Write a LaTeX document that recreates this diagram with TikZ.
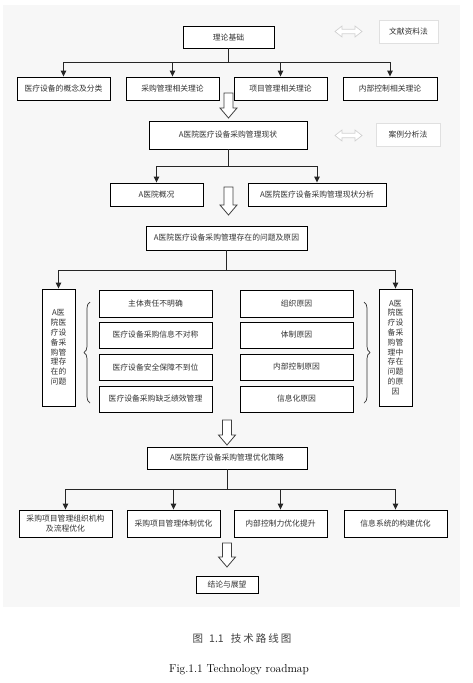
\documentclass[tikz,border=0pt]{standalone}
\usepackage{fontspec}
\newfontfamily\cjk{Noto Sans CJK SC}
\usetikzlibrary{arrows.meta,decorations.pathreplacing}
\definecolor{txt}{HTML}{333333}
\definecolor{panel}{HTML}{F7F7F7}
\newcommand\hollowdown[3]{%
  \draw[line width=0.8pt, draw=black!75, fill=white]
    (#1-4.5,#2) -- (#1+4.5,#2) -- (#1+4.5,#3-10) -- (#1+8.5,#3-10) -- (#1,#3)
    -- (#1-8.5,#3-10) -- (#1-4.5,#3-10) -- cycle;}
\newcommand\dblarrow[1]{%
  \draw[line width=0.7pt, draw=black!18, fill=white]
    (335,#1) -- (342,#1-5.5) -- (342,#1-2.3) -- (355,#1-2.3) -- (355,#1-5.5)
    -- (362,#1) -- (355,#1+5.5) -- (355,#1+2.3) -- (342,#1+2.3) -- (342,#1+5.5) -- cycle;}
\begin{document}
\begin{tikzpicture}[x=1pt,y=-1pt,
  box/.style={draw=black, line width=0.9pt, fill=white, inner sep=1pt, align=center,
    text=txt, font=\cjk\fontsize{7.8}{9.8}\selectfont},
  method/.style={box, draw=black!12, line width=0.8pt},
  conn/.style={line width=0.9pt, draw=black!85},
  arr/.style={conn, -{Triangle[length=6pt,width=5.5pt]}},
  bracestyle/.style={line width=0.7pt, draw=black!80, decorate, decoration={brace, amplitude=6pt}}]
\useasboundingbox (0,0) rectangle (473,683);
\fill[panel] (3,5) rectangle (460,607);

% level 1
\node[box, minimum width=91, minimum height=22] (t0) at (228.5,37) {理论基础};
\node[method, minimum width=59, minimum height=23] (m1) at (408.5,31.5) {文献资料法};
\dblarrow{31.5}
\node[box, minimum width=93, minimum height=23] (r1a) at (63.5,88.5) {医疗设备的概念及分类};
\node[box, minimum width=93, minimum height=23] (r1b) at (172.5,88.5) {采购管理相关理论};
\node[box, minimum width=93, minimum height=23] (r1c) at (280.5,88.5) {项目管理相关理论};
\node[box, minimum width=94, minimum height=23] (r1d) at (390,88.5) {内部控制相关理论};
\coordinate (j1) at (228.5,62);
\draw[conn] (t0.south) -- (j1);
\draw[arr] (j1) -| (r1a.north);
\draw[arr] (j1) -| (r1b.north);
\draw[arr] (j1) -| (r1c.north);
\draw[arr] (j1) -| (r1d.north);
\hollowdown{228.5}{93}{118}

% level 2
\node[box, minimum width=158, minimum height=28] (s0) at (228,135) {A医院医疗设备采购管理现状};
\node[method, minimum width=64, minimum height=23] (m2) at (408,134.5) {案例分析法};
\dblarrow{135.5}
\node[box, minimum width=93, minimum height=23] (s1) at (156.5,194.5) {A医院概况};
\node[box, minimum width=138, minimum height=23] (s2) at (317,194.5) {A医院医疗设备采购管理现状分析};
\coordinate (j2) at (228,166);
\draw[conn] (s0.south) -- (j2);
\draw[arr] (j2) -| (s1.north);
\draw[arr] (j2) -| (s2.north);
\hollowdown{228.5}{187}{215}

% level 3
\node[box, minimum width=161, minimum height=24] (p0) at (226.5,238) {A医院医疗设备采购管理存在的问题及原因};
\node[box, minimum width=33, minimum height=117] (pl) at (58.5,347.5) {A医\\院医\\疗设\\备采\\购管\\理存\\在的\\问题};
\node[box, minimum width=33, minimum height=117] (pr) at (395.5,347.5) {A医\\院医\\疗设\\备采\\购管\\理中\\存在\\问题\\的原\\因};
\coordinate (j3) at (226.5,270);
\draw[conn] (p0.south) -- (j3);
\draw[arr] (j3) -| (pl.north);
\draw[arr] (j3) -| (pr.north);
\node[box, minimum width=113, minimum height=27] (q1) at (155.5,303.5) {主体责任不明确};
\node[box, minimum width=113, minimum height=26] (q2) at (155.5,335) {医疗设备采购信息不对称};
\node[box, minimum width=113, minimum height=26] (q3) at (155.5,367) {医疗设备安全保障不到位};
\node[box, minimum width=113, minimum height=26] (q4) at (155.5,399) {医疗设备采购缺乏绩效管理};
\node[box, minimum width=113, minimum height=27] (c1) at (296.5,303.5) {组织原因};
\node[box, minimum width=113, minimum height=26] (c2) at (296.5,335) {体制原因};
\node[box, minimum width=113, minimum height=26] (c3) at (296.5,367) {内部控制原因};
\node[box, minimum width=113, minimum height=26] (c4) at (296.5,399) {信息化原因};
\draw[bracestyle] (90,403) -- (90,302);
\draw[bracestyle] (364,302) -- (364,403);
\hollowdown{227}{420}{445}

% level 4
\node[box, minimum width=160, minimum height=22] (o0) at (227,458) {A医院医疗设备采购管理优化策略};
\node[box, minimum width=93, minimum height=27] (b1) at (65.5,523.5) {采购项目管理组织机构\\及流程优化};
\node[box, minimum width=93, minimum height=27] (b2) at (173.5,523.5) {采购项目管理体制优化};
\node[box, minimum width=93, minimum height=27] (b3) at (280.5,523.5) {内部控制力优化提升};
\node[box, minimum width=103, minimum height=27] (b4) at (395.5,523.5) {信息系统的构建优化};
\coordinate (j4) at (227,489);
\draw[conn] (o0.south) -- (j4);
\draw[arr] (j4) -| (b1.north);
\draw[arr] (j4) -| (b2.north);
\draw[arr] (j4) -| (b3.north);
\draw[arr] (j4) -| (b4.north);
\hollowdown{227}{543}{567}
\node[box, minimum width=62, minimum height=17] (e0) at (227,584.5) {结论与展望};

% captions
\node[text=black!75, font=\cjk\fontsize{10.5}{12}\selectfont] (cap1) at (242,638) {图\hspace{6pt}1.1\hspace{7pt}技\hspace{2pt}术\hspace{2pt}路\hspace{2pt}线\hspace{2pt}图};
\node[font=\fontsize{11.5}{13}\selectfont] (cap2) at (239,670) {Fig.1.1 Technology roadmap};
\end{tikzpicture}
\end{document}
